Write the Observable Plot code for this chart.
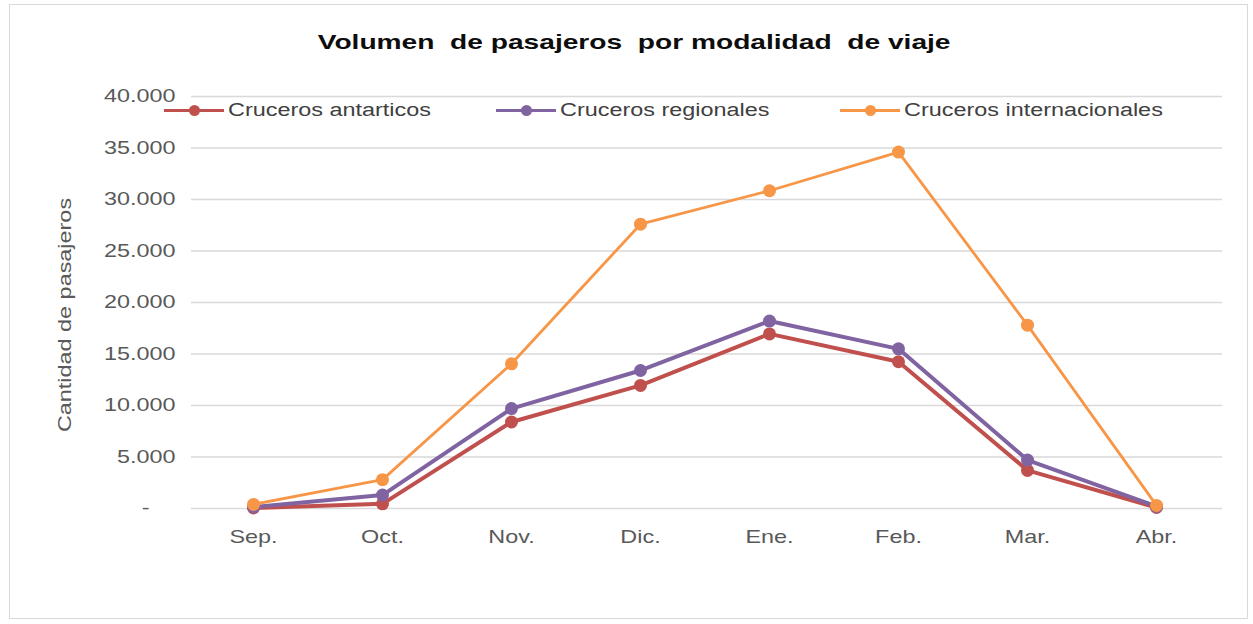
<!DOCTYPE html>
<html>
<head>
<meta charset="utf-8">
<script src="https://cdn.jsdelivr.net/npm/d3@7"></script>
<script src="https://cdn.jsdelivr.net/npm/@observablehq/plot@0.6"></script>
<style>
  html, body { margin: 0; padding: 0; background: #fff; }
  #wrap { position: relative; width: 1253px; height: 624px; overflow: hidden; background: #fff;
          font-family: "Liberation Sans", Arial, sans-serif; }
  #frame { position: absolute; left: 9px; top: 4px; width: 1239px; height: 615px;
           border: 1px solid #d9d9d9; box-sizing: border-box; }
  #title { position: absolute; left: 0; top: 30px; width: 1268px; text-align: center; }
  #title span { display: inline-block; transform: scaleX(1.34); transform-origin: center;
           font-weight: bold; font-size: 21px; white-space: pre; color: #0d0d0d; }
  #ylabel { position: absolute; left: 65px; top: 315px; transform: translate(-50%, -50%) rotate(-90deg) scaleX(1.3);
            font-size: 18px; color: #595959; white-space: nowrap; }
  #chart { position: absolute; left: 0; top: 0; }
  .leg { position: absolute; top: 100px; height: 20px; display: flex; align-items: center;
         font-size: 18px; color: #404040; white-space: nowrap; line-height: 20px; }
  .leg span { display: inline-block; transform: scaleX(1.3); transform-origin: left center; }
  .sw { position: relative; width: 60px; height: 20px; margin-right: 4px; }
  .sw .ln { position: absolute; left: 0; right: 0; top: 8.5px; height: 3px; }
  .sw .dt { position: absolute; left: 24.5px; top: 4.5px; width: 11px; height: 11px; border-radius: 50%; }
</style>
</head>
<body>
<div id="wrap">
  <div id="frame"></div>
  <div id="chart"></div>
  <div id="title"><span></span></div>
  <div id="ylabel"></div>
  <div id="legend"></div>
</div>
<script>
// ---- data ----
const months = ["Sep.", "Oct.", "Nov.", "Dic.", "Ene.", "Feb.", "Mar.", "Abr."];
const antarticos = [50, 450, 8400, 11950, 16950, 14250, 3700, 100];
const regionales = [150, 1300, 9700, 13400, 18200, 15500, 4700, 200];
const internacionales = [400, 2800, 14050, 27600, 30850, 34600, 17800, 300];
const seriesNames = ["Cruceros antarticos", "Cruceros regionales", "Cruceros internacionales"];
const seriesColors = ["#c0504d", "#8064a2", "#f79646"];
const yTicks = [0, 5000, 10000, 15000, 20000, 25000, 30000, 35000, 40000];
const titleText = "Volumen  de pasajeros  por modalidad  de viaje";
const yTitle = "Cantidad de pasajeros";

// ---- build ----
const seriesValues = [antarticos, regionales, internacionales];
const rows = seriesNames.flatMap((s, i) => months.map((m, j) => ({series: s, month: m, value: seriesValues[i][j]})));
const fmt = d => d === 0 ? "-\u00a0\u00a0\u00a0\u00a0" : d3.format(",")(d).replace(/,/g, ".");
const widths = [4, 4, 2.8];
const radii = [6.5, 6.5, 6.5];

const seriesMarks = seriesNames.flatMap((s, i) => {
  const d = rows.filter(r => r.series === s);
  return [
    Plot.line(d, {x: "month", y: "value", stroke: "series", strokeWidth: widths[i], strokeLinejoin: "round"}),
    Plot.dot(d, {x: "month", y: "value", fill: "series", r: radii[i]})
  ];
});

const chart = Plot.plot({
  width: 1253,
  height: 624,
  marginTop: 96,
  marginBottom: 116,
  marginLeft: 187,
  marginRight: 31,
  style: {fontFamily: "'Liberation Sans', Arial, sans-serif", fontSize: "18px", color: "#595959", background: "transparent", overflow: "visible"},
  x: {type: "point", domain: months, padding: 0.5, tickSize: 0, tickPadding: 22, label: null},
  y: {domain: [0, 40000], ticks: yTicks, tickSize: 0, tickPadding: 12, tickFormat: fmt, label: null},
  color: {domain: seriesNames, range: seriesColors},
  marks: [
    Plot.ruleY(yTicks, {stroke: "#d9d9d9", strokeWidth: 1.5, insetLeft: 4}),
    ...seriesMarks
  ]
});
// widen axis text horizontally like the reference rendering
chart.querySelectorAll("text").forEach(t => {
  let tr = t.getAttribute("transform");
  if (!tr) {
    const x = t.getAttribute("x") || 0, y = t.getAttribute("y") || 0;
    t.removeAttribute("x"); t.removeAttribute("y");
    tr = `translate(${x},${y})`;
  }
  t.setAttribute("transform", tr + " scale(1.3,1)");
});
document.getElementById("chart").appendChild(chart);

document.querySelector("#title span").textContent = titleText;
document.getElementById("ylabel").textContent = yTitle;

const legendLeft = [164, 496, 840];
const legend = document.getElementById("legend");
seriesNames.forEach((s, i) => {
  const item = document.createElement("div");
  item.className = "leg";
  item.style.left = legendLeft[i] + "px";
  item.innerHTML = `<div class="sw"><div class="ln" style="background:${seriesColors[i]}"></div><div class="dt" style="background:${seriesColors[i]}"></div></div><span></span>`;
  item.querySelector("span").textContent = s;
  legend.appendChild(item);
});
</script>
</body>
</html>
